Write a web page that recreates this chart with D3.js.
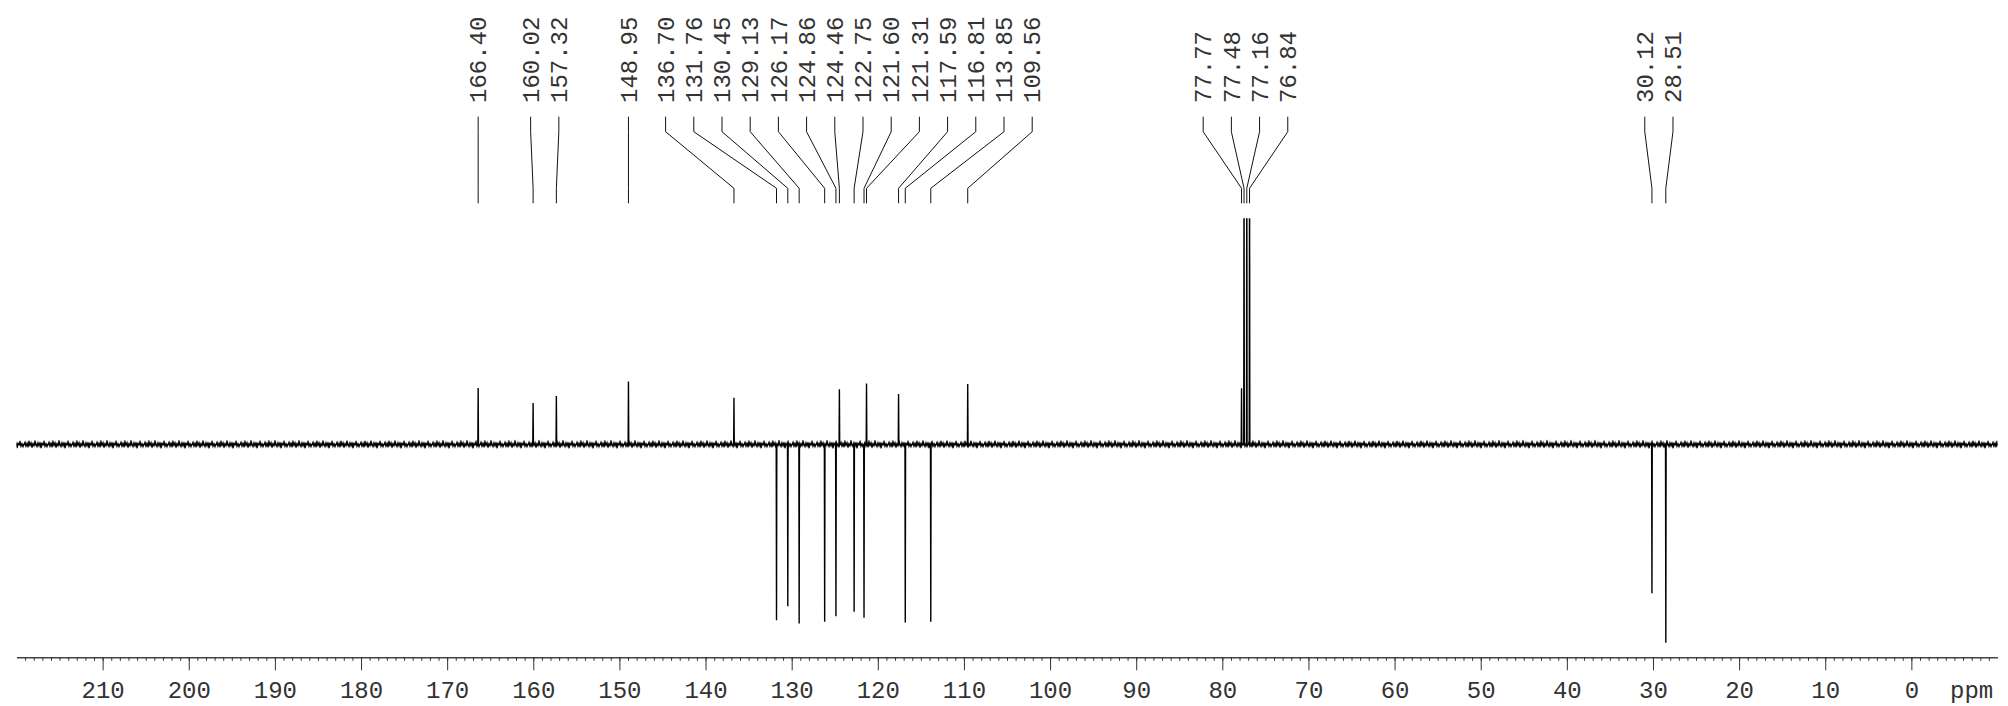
<!DOCTYPE html>
<html><head><meta charset="utf-8">
<script src="https://cdn.jsdelivr.net/npm/d3@7"></script>
<style>body{margin:0;background:#fff;overflow:hidden}</style>
</head><body>
<svg id="c" width="2008" height="706"></svg>
<script>
// ---- data ----
const peakPpm = [166.40,160.02,157.32,148.95,136.70,131.76,130.45,129.13,126.17,124.86,124.46,122.75,121.60,121.31,117.59,116.81,113.85,109.56,77.77,77.48,77.16,76.84,30.12,28.51];
const peakIntensity = [28.5,20.9,24.5,31.8,23.6,-88.7,-81.6,-90.3,-89.4,-86.7,27.9,-84.4,-87.4,30.7,25.5,-89.8,-89.4,30.5,28.4,150,160,150,-75.1,-100];
// baseline noise envelope (intensity units), sampled every 10 ppm
const noisePpm  = [220,210,200,190,180,170,160,150,140,130,120,110,100,90,80,70,60,50,40,30,20,10,0,-10];
const noiseHigh = [2.0,2.2,2.1,2.3,2.0,2.2,2.4,2.2,2.1,2.3,2.2,2.0,2.1,2.2,2.3,2.1,2.0,2.2,2.4,2.3,2.1,2.2,2.1,2.0];
const noiseLow  = [-2.0,-2.2,-2.3,-2.1,-2.2,-2.4,-2.1,-2.3,-2.2,-2.1,-2.3,-2.2,-2.1,-2.3,-2.2,-2.1,-2.3,-2.2,-2.1,-2.3,-2.2,-2.1,-2.2,-2.1];
const tickValues = [210,200,190,180,170,160,150,140,130,120,110,100,90,80,70,60,50,40,30,20,10,0];
const unitLabel = "ppm";

// ---- layout ----
const svg = d3.select("#c");
const x = d3.scaleLinear().domain([220, -10]).range([16.5, 1997.5]);
const y = d3.scaleLinear().domain([-100, 114.1]).range([642.7, 218.3]);
const axisY = 657.3;
const FONT = "'Liberation Mono', 'DejaVu Sans Mono', monospace";
const INK = "#333";

const defs = svg.append("defs");
defs.append("clipPath").attr("id","clip")
  .append("rect").attr("x",0).attr("y",y(114.1)).attr("width",2008).attr("height",706);

// texture used to render the baseline noise band (style only)
const tileW = 24, tileH = 20;
const pat = defs.append("pattern").attr("id","noise").attr("patternUnits","userSpaceOnUse")
  .attr("x",0).attr("y",y(0)-tileH/2).attr("width",tileW).attr("height",tileH);
const jag = [0,-2,1.5,-1,2.5,-2.5,0.5,-1.5,3,-0.5,1,-3,0.5,2,-1.5,1,-2,3.5,-1,0,-2.5,1.5,-0.5,2,0];
pat.append("path")
  .attr("d", d3.line()(jag.map((v,i)=>[i*tileW/(jag.length-1), tileH/2+v])))
  .attr("fill","none").attr("stroke","#000").attr("stroke-width",1.5);

const g = svg.append("g").attr("clip-path","url(#clip)");

// noise band
const band = noisePpm.map((p,i)=>({p, hi:noiseHigh[i], lo:noiseLow[i]}));
g.append("path").datum(band)
  .attr("d", d3.area().x(d=>x(d.p)).y0(d=>y(d.lo)).y1(d=>y(d.hi)).curve(d3.curveMonotoneX))
  .attr("fill","url(#noise)");

// stick spectrum line
const peaks = peakPpm.map((p,i)=>({p, v:peakIntensity[i], label:p.toFixed(2)}));
const sorted = peaks.slice().sort((a,b)=>b.p-a.p);
const pts = [{p:220, v:0}];
const hw = 0.035;
sorted.forEach(d=>{ pts.push({p:d.p+hw, v:0}); pts.push({p:d.p, v:d.v}); pts.push({p:d.p-hw, v:0}); });
pts.push({p:-10, v:0});
g.append("path").datum(pts)
  .attr("d", d3.line().x(d=>x(d.p)).y(d=>y(d.v)))
  .attr("fill","none").attr("stroke","#000").attr("stroke-width",1.4).attr("stroke-linejoin","miter");

// ---- peak label layout: spread labels to a minimum spacing ----
const spacing = 28.2;
let clusters = sorted.map(d=>({items:[d]}));
function place(c){
  const m = d3.mean(c.items, d=>x(d.p));
  const n = c.items.length;
  c.items.forEach((d,i)=>{ d.lx = m + spacing*(i-(n-1)/2); });
}
clusters.forEach(place);
let changed = true;
while(changed){
  changed = false;
  for(let i=0;i<clusters.length-1;i++){
    const a = clusters[i], b = clusters[i+1];
    if(a.items[a.items.length-1].lx + spacing > b.items[0].lx){
      a.items = a.items.concat(b.items); place(a); clusters.splice(i+1,1); changed = true; break;
    }
  }
}

const yTextStart = 103, yL1 = 116.7, yL2 = 131.7, yL3 = 188.3, yL4 = 203.3;
svg.append("g").selectAll("path").data(sorted).join("path")
  .attr("d", d=>`M${d.lx},${yL1}L${d.lx},${yL2}L${x(d.p)},${yL3}L${x(d.p)},${yL4}`)
  .attr("fill","none").attr("stroke","#111").attr("stroke-width",1);

svg.append("g").selectAll("text").data(sorted).join("text")
  .attr("transform", d=>`translate(${d.lx},${yTextStart}) rotate(-90)`)
  .attr("dy","0.34em")
  .attr("font-family",FONT).attr("font-size",24).attr("fill",INK)
  .text(d=>d.label);

// ---- axis ----
const minorTicks = d3.range(-9, 220, 1);
const minor = svg.append("g").attr("transform",`translate(0,${axisY})`)
  .call(d3.axisBottom(x).tickValues(minorTicks).tickSize(3.5).tickSizeOuter(0).tickFormat(""));
minor.select(".domain").attr("stroke","#444").attr("stroke-width",1.5);
minor.selectAll(".tick line").attr("stroke","#333");

const major = svg.append("g").attr("transform",`translate(0,${axisY})`)
  .call(d3.axisBottom(x).tickValues(tickValues).tickSize(13).tickSizeOuter(0).tickFormat(d3.format("d")));
major.select(".domain").remove();
major.selectAll(".tick line").attr("stroke","#333");
major.selectAll(".tick text").attr("y",40.7).attr("dy",0)
  .attr("font-family",FONT).attr("font-size",24).attr("fill",INK);

svg.append("text").attr("x",x(-7)).attr("y",axisY+40.7)
  .attr("text-anchor","middle").attr("font-family",FONT).attr("font-size",24).attr("fill",INK)
  .text(unitLabel);
</script>
</body></html>
